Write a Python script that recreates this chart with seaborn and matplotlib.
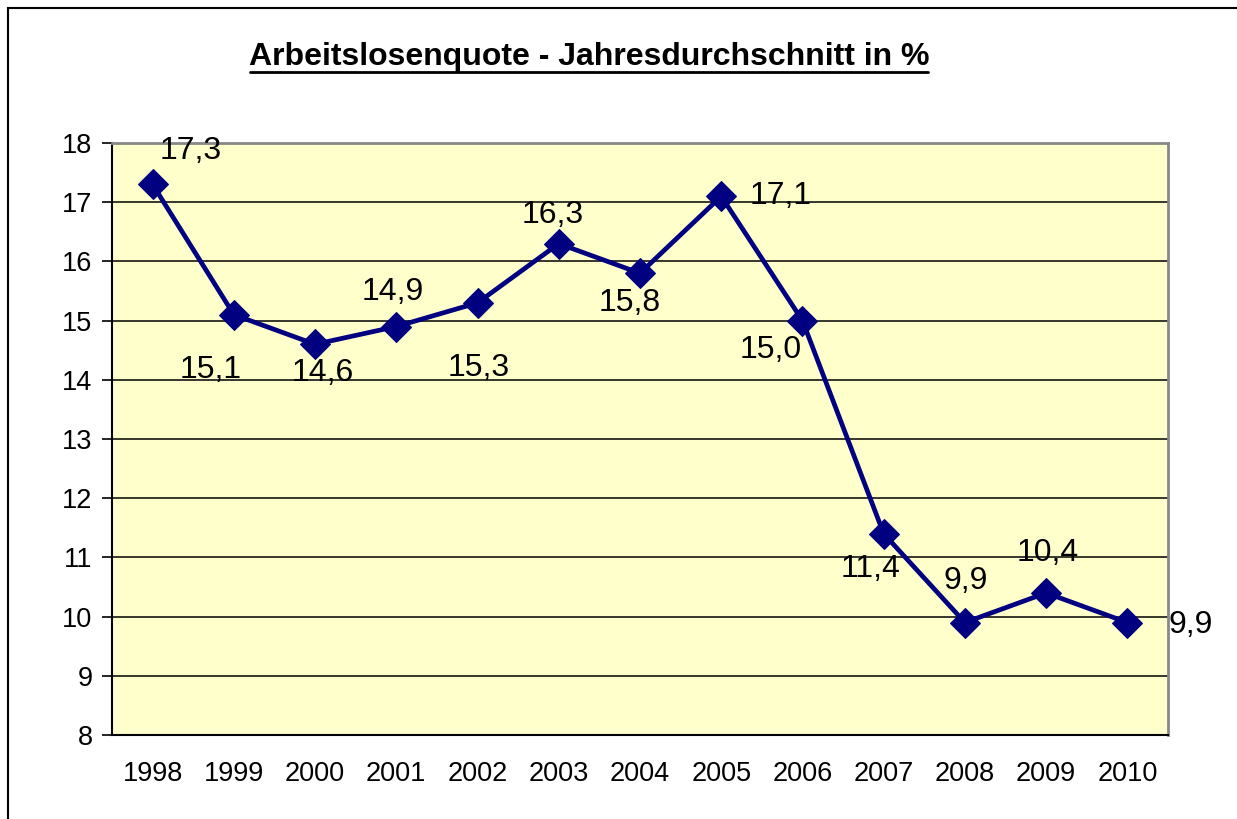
import matplotlib.pyplot as plt
import matplotlib.patches as mpatches
from matplotlib.lines import Line2D
from matplotlib.ticker import FixedLocator
import seaborn as sns
import pandas as pd

# data
years = ["1998", "1999", "2000", "2001", "2002", "2003", "2004",
         "2005", "2006", "2007", "2008", "2009", "2010"]
quote = [17.3, 15.1, 14.6, 14.9, 15.3, 16.3, 15.8, 17.1, 15.0, 11.4, 9.9, 10.4, 9.9]
y_ticks = [8, 9, 10, 11, 12, 13, 14, 15, 16, 17, 18]

# label offsets in pixels (dx, dy)
label_offsets = [(38, 33), (-23, -55), (8, -29), (-4, 35), (1, -65), (-6, 29),
                 (-10, -30), (59, 0), (-32, -29), (-13, -35), (1, 42), (2, 40), (63, -2)]

sns.set_style("white")
plt.rcParams['font.family'] = ['Liberation Sans', 'DejaVu Sans']
plt.rcParams['text.color'] = 'black'
plt.rcParams['xtick.color'] = 'black'
plt.rcParams['ytick.color'] = 'black'

df = pd.DataFrame({"Jahr": years, "Quote": quote})

fig = plt.figure(figsize=(12.37, 8.19), dpi=100)
ax = fig.add_axes([112 / 1237, 1 - 735 / 819, (1168 - 112) / 1237, (735 - 143) / 819])
ax.set_facecolor("#FFFFCC")

sns.lineplot(data=df, x="Jahr", y="Quote", ax=ax, color="#000080", linewidth=3.4,
             marker="D", markersize=15, markeredgecolor="#000080", sort=False, zorder=5)

ax.set_xlim(-0.5, len(years) - 0.5)
ax.set_ylim(8, 18)
ax.set_yticks(y_ticks)
ax.set_yticklabels([str(t) for t in y_ticks], fontsize=19.5)
ax.yaxis.grid(True, color="black", linewidth=1.1)
ax.set_axisbelow(True)

ax.set_xticks(range(len(years)))
ax.set_xticklabels(years, fontsize=19.5)
ax.xaxis.set_minor_locator(FixedLocator([i - 0.5 for i in range(len(years) + 1)]))
ax.tick_params(axis="x", which="major", length=0, pad=19, labelcolor="black")
ax.tick_params(axis="x", which="minor", length=7, width=1.2, color="black", direction="out")
ax.tick_params(axis="y", length=7, width=1.2, color="black", direction="out", pad=7,
               left=True, labelcolor="black")

ax.set_xlabel("")
ax.set_ylabel("")

for side in ["top", "right"]:
    ax.spines[side].set_color("#888888")
    ax.spines[side].set_linewidth(2)
for side in ["left", "bottom"]:
    ax.spines[side].set_color("black")
    ax.spines[side].set_linewidth(1.5)

for i, (v, off) in enumerate(zip(quote, label_offsets)):
    ax.annotate(f"{v:.1f}".replace(".", ","), xy=(i, v), xytext=off,
                textcoords="offset pixels", ha="center", va="center",
                fontsize=23, color="black", zorder=6)

# title, underlined
fig.text(589 / 1237, 1 - 57 / 819, "Arbeitslosenquote - Jahresdurchschnitt in %",
         ha="center", va="center", fontsize=23, fontweight="bold", color="black")
fig.add_artist(Line2D([250 / 1237, 928 / 1237], [1 - 72 / 819, 1 - 72 / 819],
                      color="black", linewidth=2, transform=fig.transFigure))

# outer frame
fig.add_artist(mpatches.Rectangle((8 / 1237, -0.1), 1.2, 1.1 - 8 / 819, fill=False,
                                  edgecolor="black", linewidth=1.5,
                                  transform=fig.transFigure))

fig.savefig("out.png", dpi=100)
